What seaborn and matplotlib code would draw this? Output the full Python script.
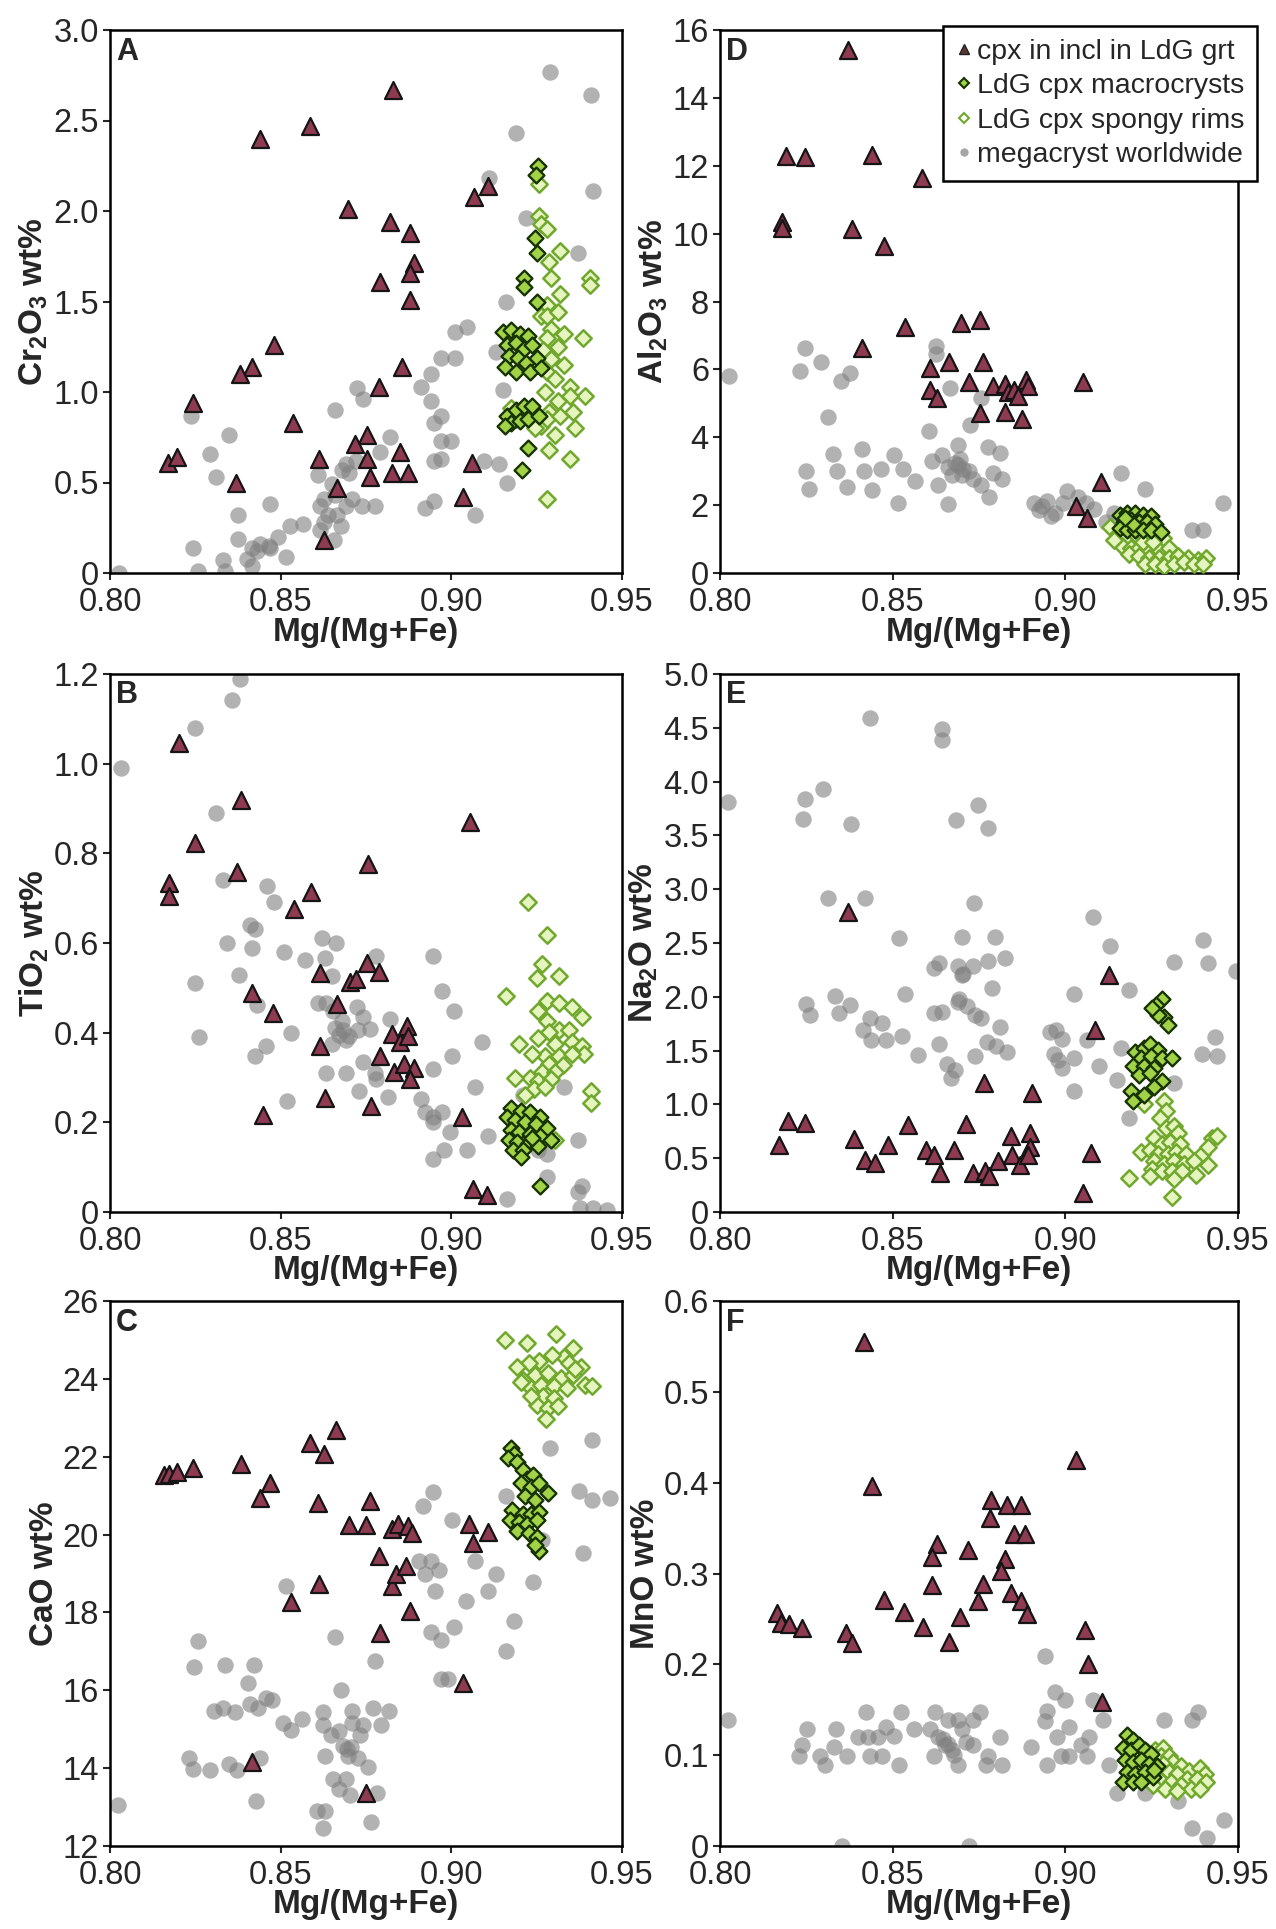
import numpy as np
import pandas as pd
import matplotlib
matplotlib.use("Agg")
import matplotlib.pyplot as plt
from matplotlib.lines import Line2D
import seaborn as sns

# ---------------- DATA (x = Mg/(Mg+Fe), y = oxide wt%) ----------------
# Panel A: Cr2O3
a_incl = [(0.844,2.40),(0.8586,2.47),(0.883,2.67),(0.8698,2.01),(0.882,1.94),(0.888,1.88),(0.889,1.71),
          (0.888,1.66),(0.888,1.51),(0.879,1.61),(0.9065,2.08),(0.9108,2.14),(0.848,1.26),(0.8415,1.14),
          (0.838,1.10),(0.8244,0.94),(0.817,0.61),(0.8197,0.64),(0.8368,0.50),(0.8537,0.83),(0.8855,1.14),
          (0.8787,1.03),(0.8754,0.76),(0.8719,0.71),(0.8754,0.63),(0.8762,0.53),(0.8612,0.63),(0.8664,0.47),
          (0.8627,0.18),(0.885,0.67),(0.8827,0.55),(0.8873,0.55),(0.906,0.61),(0.9034,0.42)]
a_macro = [(0.9254,2.25),(0.9247,2.20),(0.9244,1.85),(0.925,1.77),(0.9213,1.63),(0.9213,1.58),(0.925,1.50),
           (0.9151,1.33),(0.9175,1.34),(0.920,1.32),(0.9225,1.31),(0.9163,1.26),(0.9188,1.27),(0.9213,1.24),
           (0.9237,1.26),(0.9169,1.20),(0.9194,1.19),(0.9218,1.16),(0.925,1.19),(0.9157,1.14),(0.9188,1.11),
           (0.9231,1.11),(0.9262,1.13),(0.9163,0.87),(0.9188,0.90),(0.9213,0.92),(0.9237,0.92),(0.9175,0.83),
           (0.920,0.84),(0.9225,0.85),(0.9157,0.81),(0.9256,0.87),(0.9225,0.69),(0.9207,0.57)]
a_sponge = [(0.9256,2.15),(0.9256,1.97),(0.9262,1.93),(0.928,1.90),(0.9287,1.72),(0.9318,1.78),(0.9293,1.63),
            (0.9405,1.63),(0.9405,1.59),(0.9318,1.54),(0.928,1.48),(0.9262,1.42),(0.928,1.42),(0.9312,1.44),
            (0.9293,1.35),(0.933,1.32),(0.928,1.30),(0.9385,1.30),(0.9312,1.25),(0.9268,1.23),(0.9293,1.18),
            (0.933,1.15),(0.928,1.11),(0.9305,1.07),(0.9274,1.00),(0.9348,1.03),(0.9392,0.98),(0.9348,0.98),
            (0.9312,0.95),(0.9287,0.89),(0.9262,0.81),(0.928,0.85),(0.9318,0.87),(0.9355,0.89),(0.9361,0.80),
            (0.9244,0.80),(0.9188,0.85),(0.9175,0.91),(0.9305,0.76),(0.9287,0.68),(0.9348,0.63),(0.928,0.41)]
a_mega = [(0.929,2.77),(0.941,2.64),(0.919,2.43),(0.9415,2.11),(0.911,2.18),(0.937,1.77),(0.922,1.96),
          (0.916,1.50),(0.9046,1.36),(0.901,1.33),(0.897,1.19),(0.901,1.19),(0.913,1.22),(0.894,1.10),
          (0.891,1.03),(0.915,1.01),(0.894,0.95),(0.897,0.87),(0.895,0.83),(0.897,0.73),(0.900,0.73),
          (0.895,0.62),(0.897,0.63),(0.9095,0.62),(0.914,0.60),(0.9163,0.50),(0.907,0.32),(0.8923,0.36),
          (0.895,0.40),(0.882,0.75),(0.879,0.67),(0.8725,1.02),(0.874,0.96),(0.866,0.90),(0.8627,0.41),
          (0.861,0.54),(0.865,0.49),(0.869,0.60),(0.870,0.55),(0.871,0.41),(0.8738,0.37),(0.8775,0.37),
          (0.8615,0.37),(0.864,0.32),(0.8664,0.32),(0.869,0.37),(0.8627,0.28),(0.8676,0.26),(0.8615,0.24),
          (0.8565,0.27),(0.8528,0.26),(0.8491,0.20),(0.8466,0.15),(0.844,0.16),(0.8417,0.14),(0.840,0.08),
          (0.843,0.12),(0.847,0.14),(0.8516,0.09),(0.8417,0.04),(0.8337,0.01),(0.833,0.07),(0.8257,0.01),
          (0.8244,0.14),(0.8374,0.19),(0.8374,0.32),(0.847,0.38),(0.835,0.76),(0.8294,0.66),(0.831,0.53),
          (0.8238,0.87),(0.8025,0.0),(0.8657,0.18),(0.868,0.57),(0.872,0.62),(0.866,0.43)]

# Panel B: TiO2
b_incl = [(0.8201,1.047),(0.8385,0.919),(0.8248,0.823),(0.8174,0.733),(0.8174,0.705),(0.8373,0.759),
          (0.8589,0.714),(0.8539,0.675),(0.8755,0.777),(0.9056,0.871),(0.8417,0.489),(0.8479,0.444),
          (0.8447,0.216),(0.8616,0.533),(0.8665,0.463),(0.8754,0.556),(0.8788,0.536),(0.8702,0.514),
          (0.872,0.52),(0.8616,0.37),(0.8792,0.348),(0.8825,0.396),(0.8849,0.379),(0.8871,0.414),
          (0.8873,0.392),(0.8831,0.312),(0.886,0.331),(0.8892,0.322),(0.888,0.296),(0.8629,0.254),
          (0.8766,0.237),(0.9031,0.213),(0.9064,0.051),(0.9105,0.039)]
b_macro = [(0.9174,0.231),(0.9205,0.226),(0.923,0.222),(0.926,0.213),(0.9162,0.213),(0.9187,0.205),
           (0.9217,0.200),(0.9248,0.196),(0.9279,0.187),(0.9174,0.183),(0.9199,0.178),(0.923,0.174),
           (0.926,0.170),(0.9168,0.161),(0.9193,0.157),(0.9224,0.152),(0.9254,0.148),(0.918,0.139),
           (0.9211,0.139),(0.9205,0.122),(0.9236,0.165),(0.9291,0.161),(0.926,0.058)]
b_sponge = [(0.9224,0.692),(0.9281,0.617),(0.9267,0.553),(0.9252,0.523),(0.9316,0.527),(0.916,0.481),
            (0.9279,0.470),(0.9254,0.448),(0.9316,0.466),(0.9353,0.457),(0.9383,0.435),(0.9279,0.427),
            (0.9316,0.405),(0.9346,0.405),(0.9285,0.401),(0.9254,0.387),(0.9199,0.374),(0.9304,0.374),
            (0.9353,0.379),(0.9383,0.370),(0.9389,0.353),(0.9273,0.348),(0.9316,0.348),(0.9353,0.353),
            (0.9285,0.331),(0.9328,0.327),(0.9267,0.313),(0.9304,0.313),(0.923,0.300),(0.9187,0.300),
            (0.9254,0.292),(0.9291,0.296),(0.9242,0.274),(0.9273,0.279),(0.9217,0.261),(0.9408,0.270),
            (0.9408,0.244),(0.9304,0.161),(0.9236,0.353)]
b_mega = [(0.8033,0.991),(0.8248,1.080),(0.8356,1.141),(0.838,1.189),(0.8312,0.890),(0.8331,0.740),
          (0.8459,0.727),(0.848,0.692),(0.841,0.640),(0.8426,0.631),(0.8344,0.601),(0.8416,0.588),
          (0.8511,0.579),(0.857,0.562),(0.8377,0.529),(0.825,0.510),(0.826,0.390),(0.8432,0.462),
          (0.8457,0.370),(0.8426,0.348),(0.853,0.399),(0.852,0.248),(0.8622,0.611),(0.8662,0.599),
          (0.8629,0.566),(0.865,0.527),(0.861,0.466),(0.8634,0.466),(0.8653,0.448),(0.868,0.427),
          (0.8724,0.457),(0.874,0.435),(0.8684,0.405),(0.870,0.392),(0.8727,0.405),(0.8763,0.409),
          (0.869,0.383),(0.865,0.374),(0.8634,0.309),(0.869,0.309),(0.874,0.335),(0.8776,0.309),
          (0.878,0.296),(0.873,0.270),(0.8813,0.257),(0.8819,0.431),(0.878,0.570),(0.8947,0.570),
          (0.8972,0.492),(0.9009,0.448),(0.9003,0.348),(0.8947,0.318),(0.891,0.253),(0.8922,0.222),
          (0.8947,0.213),(0.8972,0.222),(0.8947,0.200),(0.8997,0.178),(0.8978,0.139),(0.8947,0.118),
          (0.9046,0.139),(0.907,0.279),(0.9089,0.379),(0.9107,0.170),(0.9162,0.030),(0.9187,0.170),
          (0.928,0.130),(0.928,0.078),(0.933,0.279),(0.937,0.161),(0.9384,0.057),(0.937,0.044),
          (0.9377,0.009),(0.9414,0.009),(0.9457,0.004),(0.9211,0.261),(0.9254,0.139),(0.867,0.395),
          (0.866,0.41)]

# Panel C: CaO
c_incl = [(0.8159,21.54),(0.8173,21.56),(0.8195,21.62),(0.8242,21.70),(0.8385,21.80),(0.844,20.93),
          (0.847,21.33),(0.8586,22.34),(0.8627,22.07),(0.8663,22.69),(0.8608,20.80),(0.8611,18.72),
          (0.8531,18.27),(0.8699,20.24),(0.8751,20.24),(0.8761,20.85),(0.8788,19.44),(0.8825,20.14),
          (0.8843,20.26),(0.8873,20.21),(0.8886,20.05),(0.8825,18.67),(0.8837,18.99),(0.8868,19.20),
          (0.888,18.03),(0.879,17.48),(0.9051,20.28),(0.9063,19.79),(0.9106,20.07),(0.9033,16.18),
          (0.8415,14.16),(0.8751,13.36)]
c_macro = [(0.9175,22.23),(0.9185,22.07),(0.9167,21.96),(0.9191,21.86),(0.921,21.65),(0.9222,21.43),
           (0.924,21.54),(0.9204,21.33),(0.9234,21.22),(0.9258,21.33),(0.9283,21.06),(0.9216,21.00),
           (0.9246,20.90),(0.9179,20.64),(0.921,20.53),(0.9234,20.53),(0.9258,20.58),(0.9173,20.37),
           (0.9197,20.32),(0.9222,20.26),(0.9252,20.37),(0.9191,20.10),(0.9228,20.05),(0.9252,19.94),
           (0.9258,19.57),(0.9246,19.73)]
c_sponge = [(0.9158,24.99),(0.9222,24.92),(0.9307,25.15),(0.9356,24.78),(0.933,24.57),(0.9295,24.62),
            (0.9258,24.46),(0.9228,24.41),(0.9191,24.30),(0.9344,24.41),(0.9381,24.30),(0.921,23.98),
            (0.9246,24.09),(0.9283,24.14),(0.932,24.03),(0.9356,24.09),(0.9393,23.85),(0.9411,23.82),
            (0.9234,23.77),(0.9264,23.85),(0.9301,23.82),(0.9338,23.77),(0.9204,23.93),(0.927,23.56),
            (0.9301,23.50),(0.9252,23.34),(0.9283,23.24),(0.9313,23.29),(0.9276,22.97),(0.9234,23.56),
            (0.9362,24.25)]
c_mega = [(0.8022,13.06),(0.8257,17.27),(0.8247,16.60),(0.8336,16.65),(0.8421,16.65),(0.8403,16.20),
          (0.8305,15.48),(0.833,15.54),(0.8366,15.43),(0.8409,15.64),(0.8434,15.54),(0.8458,15.80),
          (0.8476,15.75),(0.8507,15.17),(0.8531,14.98),(0.8562,15.27),(0.8232,14.27),(0.8244,13.97),
          (0.8293,13.95),(0.8348,14.10),(0.8372,13.95),(0.844,14.27),(0.8428,13.15),(0.8516,18.67),
          (0.866,17.37),(0.8678,16.01),(0.8776,16.76),(0.877,15.54),(0.8818,15.48),(0.8794,15.11),
          (0.8623,15.43),(0.8623,15.11),(0.8647,14.85),(0.8672,14.95),(0.8709,15.48),(0.8709,15.17),
          (0.8733,14.85),(0.874,15.11),(0.8684,14.58),(0.8696,14.32),(0.8727,14.27),(0.8629,14.32),
          (0.8757,14.02),(0.8654,13.73),(0.869,13.73),(0.8672,13.47),(0.8702,13.31),(0.8782,13.36),
          (0.8605,12.89),(0.863,12.89),(0.8623,12.45),(0.8764,12.62),(0.8916,20.74),(0.8947,21.09),
          (0.9002,20.37),(0.8904,19.31),(0.8941,19.31),(0.8922,18.99),(0.8965,19.10),(0.8953,18.56),
          (0.9069,19.33),(0.913,18.99),(0.9106,18.56),(0.9044,18.30),(0.8941,17.50),(0.8971,17.29),
          (0.9008,17.63),(0.8989,16.28),(0.897,16.28),(0.9185,17.77),(0.9161,17.00),(0.924,18.78),
          (0.929,22.23),(0.9411,22.44),(0.9374,21.11),(0.9411,20.90),(0.9466,20.95),(0.9387,19.52),
          (0.9161,21.00),(0.9266,19.85),(0.8706,14.55),(0.8693,14.48)]

# Panel D: Al2O3
d_incl = [(0.8371,15.42),(0.8192,12.29),(0.8247,12.25),(0.8441,12.33),(0.8586,11.63),(0.8179,10.35),
          (0.8179,10.17),(0.8382,10.14),(0.8476,9.63),(0.8535,7.26),(0.8411,6.62),(0.8697,7.38),
          (0.8753,7.46),(0.8609,6.04),(0.8663,6.21),(0.8761,6.21),(0.8609,5.40),(0.8629,5.16),
          (0.8722,5.63),(0.8753,4.70),(0.879,5.51),(0.8824,5.57),(0.8835,5.34),(0.8852,5.40),
          (0.8886,5.69),(0.8891,5.51),(0.8824,4.75),(0.8874,4.54),(0.8863,5.22),(0.905,5.63),
          (0.9104,2.68),(0.903,1.98),(0.9063,1.63)]
d_macro = [(0.9157,1.72),(0.918,1.78),(0.9202,1.78),(0.9225,1.72),(0.9248,1.67),(0.9169,1.49),
           (0.9191,1.55),(0.9214,1.49),(0.9236,1.49),(0.9259,1.43),(0.9157,1.32),(0.918,1.26),
           (0.9202,1.26),(0.9225,1.26),(0.9248,1.26),(0.9276,1.20),(0.9197,1.43),(0.9174,1.61)]
d_sponge = [(0.9129,1.37),(0.9152,1.14),(0.9174,1.03),(0.9202,1.14),(0.923,1.08),(0.9259,1.08),
            (0.9282,1.03),(0.9163,0.79),(0.9191,0.73),(0.9214,0.73),(0.9242,0.68),(0.927,0.68),
            (0.9299,0.73),(0.9185,0.56),(0.9214,0.50),(0.9242,0.44),(0.927,0.44),(0.9299,0.44),
            (0.9327,0.50),(0.9355,0.44),(0.9384,0.38),(0.9406,0.44),(0.923,0.27),(0.9259,0.27),
            (0.9287,0.21),(0.9316,0.27),(0.9344,0.33),(0.9372,0.27),(0.940,0.27),(0.914,0.97),
            (0.9225,0.91),(0.9253,0.91)]
d_mega = [(0.8026,5.80),(0.8247,6.62),(0.8233,5.94),(0.8292,6.21),(0.8351,5.66),(0.8377,5.90),
          (0.8312,4.61),(0.8249,3.01),(0.8258,2.48),(0.8326,3.50),(0.8339,3.01),(0.8369,2.52),
          (0.8411,3.65),(0.8416,3.01),(0.8439,2.45),(0.8467,3.06),(0.8504,3.47),(0.853,3.06),
          (0.8516,2.05),(0.8566,2.71),(0.8606,4.19),(0.8665,5.45),(0.8626,6.68),(0.8626,6.44),
          (0.8659,2.02),(0.8631,2.60),(0.8615,3.30),(0.8643,3.47),(0.866,3.12),(0.8688,3.76),
          (0.8694,3.36),(0.870,2.89),(0.8722,3.01),(0.8733,2.77),(0.8756,2.60),(0.8778,2.25),
          (0.879,2.95),(0.8812,3.53),(0.8818,2.77),(0.8776,3.71),(0.8671,2.89),(0.8688,3.18),
          (0.8725,4.35),(0.8756,5.16),(0.8908,2.07),(0.8931,1.96),(0.8948,2.13),(0.8971,1.78),
          (0.9005,2.42),(0.8993,2.07),(0.9038,2.25),(0.9061,2.07),(0.9084,1.90),(0.8959,1.67),
          (0.9117,1.49),(0.916,2.95),(0.923,2.48),(0.9457,2.07),(0.9367,1.26),(0.940,1.26),
          (0.914,1.78),(0.8705,3.05),(0.8680,3.25),(0.8925,1.85)]

# Panel E: Na2O
e_incl = [(0.8371,2.79),(0.9126,2.20),(0.9085,1.69),(0.8764,1.20),(0.8903,1.11),(0.8197,0.85),
          (0.8245,0.83),(0.8172,0.62),(0.8388,0.68),(0.8421,0.48),(0.845,0.46),(0.8486,0.62),
          (0.8544,0.81),(0.8597,0.58),(0.8621,0.53),(0.8638,0.36),(0.8677,0.58),(0.8712,0.82),
          (0.8732,0.36),(0.8768,0.38),(0.8779,0.33),(0.8806,0.47),(0.8842,0.71),(0.8846,0.53),
          (0.887,0.44),(0.8897,0.73),(0.8897,0.60),(0.8893,0.53),(0.9073,0.55),(0.905,0.18)]
e_macro = [(0.9281,1.98),(0.9262,1.92),(0.9285,1.81),(0.9267,1.83),(0.9297,1.74),(0.925,1.90),
           (0.9203,1.49),(0.9227,1.52),(0.9244,1.56),(0.9267,1.51),(0.922,1.43),(0.9249,1.45),
           (0.9279,1.43),(0.9309,1.43),(0.9197,1.36),(0.9227,1.36),(0.9256,1.34),(0.9214,1.27),
           (0.9244,1.29),(0.9279,1.22),(0.9191,1.12),(0.9227,1.09),(0.9197,1.03),(0.9256,1.16)]
e_sponge = [(0.9285,1.03),(0.9291,0.94),(0.9273,0.87),(0.9291,0.78),(0.9314,0.80),(0.9326,0.73),
            (0.9256,0.69),(0.928,0.63),(0.9303,0.65),(0.9332,0.63),(0.922,0.56),(0.9244,0.58),
            (0.9268,0.54),(0.9297,0.54),(0.932,0.56),(0.935,0.54),(0.9397,0.54),(0.9426,0.69),
            (0.9438,0.71),(0.9414,0.60),(0.9256,0.47),(0.9285,0.45),(0.9314,0.47),(0.9344,0.45),
            (0.9373,0.47),(0.9414,0.44),(0.925,0.40),(0.928,0.38),(0.9309,0.38),(0.9338,0.38),
            (0.9379,0.34),(0.9185,0.32),(0.9244,0.33),(0.9314,0.31),(0.9309,0.14),(0.9227,1.00)]
e_mega = [(0.8024,3.81),(0.8239,3.65),(0.8245,3.84),(0.8298,3.93),(0.8433,4.59),(0.838,3.61),
          (0.8642,4.49),(0.8642,4.39),(0.8682,3.64),(0.8748,3.78),(0.8776,3.57),(0.8313,2.92),
          (0.8419,2.92),(0.8736,2.87),(0.8517,2.55),(0.8701,2.56),(0.8795,2.56),(0.8621,2.27),
          (0.8633,2.31),(0.869,2.29),(0.8703,2.21),(0.8732,2.29),(0.8776,2.33),(0.8826,2.36),
          (0.8788,2.08),(0.8536,2.03),(0.8333,2.01),(0.825,1.93),(0.8262,1.83),(0.8344,1.85),
          (0.8376,1.92),(0.8433,1.80),(0.8468,1.76),(0.8415,1.69),(0.8438,1.60),(0.848,1.60),
          (0.8527,1.64),(0.8574,1.46),(0.8635,1.56),(0.8621,1.85),(0.8644,1.86),(0.8691,1.98),
          (0.8715,1.91),(0.8738,1.83),(0.8756,1.80),(0.8738,1.45),(0.8774,1.58),(0.880,1.54),
          (0.883,1.49),(0.8811,1.72),(0.8656,1.38),(0.868,1.32),(0.867,1.25),(0.8956,1.67),
          (0.8973,1.69),(0.8991,1.61),(0.8967,1.47),(0.898,1.41),(0.8991,1.34),(0.9026,1.43),
          (0.9062,1.60),(0.9097,1.36),(0.9026,1.12),(0.9026,2.03),(0.9079,2.74),(0.9129,2.47),
          (0.9185,2.06),(0.9162,1.52),(0.915,1.23),(0.9185,0.87),(0.9314,2.32),(0.9399,2.53),
          (0.9414,2.31),(0.9493,2.24),(0.9432,1.63),(0.9397,1.47),(0.9438,1.45),(0.9314,1.20),
          (0.8700,2.20),(0.8690,1.95)]

# Panel F: MnO
f_incl = [(0.8416,0.555),(0.8441,0.396),(0.9031,0.425),(0.8786,0.381),(0.8783,0.361),(0.8832,0.375),
          (0.8873,0.375),(0.8852,0.343),(0.8884,0.343),(0.8627,0.332),(0.8614,0.318),(0.8717,0.326),
          (0.8826,0.316),(0.8815,0.303),(0.8614,0.287),(0.8763,0.288),(0.8748,0.270),(0.8475,0.271),
          (0.8533,0.258),(0.8844,0.278),(0.8873,0.270),(0.8888,0.255),(0.8694,0.252),(0.8588,0.241),
          (0.8165,0.256),(0.8177,0.245),(0.8199,0.244),(0.8237,0.240),(0.8364,0.234),(0.8383,0.224),
          (0.8663,0.225),(0.9057,0.238),(0.9066,0.200),(0.9105,0.158)]
f_macro = [(0.9178,0.122),(0.9195,0.117),(0.9167,0.108),(0.919,0.106),(0.9213,0.111),(0.923,0.106),
           (0.9247,0.101),(0.9172,0.095),(0.9195,0.092),(0.9218,0.095),(0.9241,0.090),(0.9264,0.088),
           (0.9178,0.081),(0.9201,0.079),(0.923,0.081),(0.9253,0.076),(0.9167,0.070),(0.9195,0.070),
           (0.9218,0.070),(0.9258,0.084)]
f_sponge = [(0.9213,0.099),(0.9236,0.104),(0.9259,0.106),(0.9282,0.108),(0.9276,0.099),(0.9299,0.099),
            (0.9311,0.092),(0.9282,0.090),(0.9334,0.088),(0.9357,0.083),(0.9391,0.086),(0.9403,0.079),
            (0.927,0.081),(0.9299,0.081),(0.9322,0.079),(0.9351,0.074),(0.938,0.074),(0.9408,0.070),
            (0.9241,0.076),(0.9276,0.072),(0.9305,0.070),(0.9334,0.067),(0.9363,0.063),(0.9391,0.063),
            (0.9224,0.086),(0.9253,0.067),(0.9288,0.063),(0.9322,0.061)]
f_mega = [(0.8024,0.139),(0.8251,0.129),(0.8237,0.111),(0.823,0.099),(0.8291,0.099),(0.8305,0.089),
          (0.8329,0.109),(0.8337,0.129),(0.8368,0.099),(0.8424,0.148),(0.8401,0.120),(0.843,0.120),
          (0.8433,0.099),(0.847,0.099),(0.8458,0.120),(0.8481,0.131),(0.8518,0.089),(0.8525,0.148),
          (0.8504,0.121),(0.8562,0.129),(0.8608,0.129),(0.8622,0.148),(0.8631,0.120),(0.8652,0.111),
          (0.8619,0.099),(0.866,0.139),(0.8688,0.139),(0.870,0.129),(0.8711,0.115),(0.8679,0.100),
          (0.8689,0.089),(0.8734,0.139),(0.8752,0.148),(0.8732,0.111),(0.8775,0.099),(0.8769,0.089),
          (0.881,0.120),(0.8817,0.089),(0.8902,0.109),(0.8942,0.138),(0.8947,0.089),(0.8942,0.209),
          (0.8971,0.170),(0.8999,0.161),(0.8947,0.149),(0.9011,0.131),(0.8976,0.120),(0.8988,0.099),
          (0.9011,0.099),(0.9045,0.111),(0.9068,0.120),(0.9062,0.099),(0.908,0.161),(0.9108,0.139),
          (0.9126,0.089),(0.9149,0.058),(0.9287,0.139),(0.9327,0.049),(0.9385,0.148),(0.9367,0.139),
          (0.9367,0.020),(0.941,0.009),(0.946,0.029),(0.8352,0.0),(0.872,0.0),(0.923,0.058),
          (0.8660,0.112),(0.8672,0.106),(0.8645,0.118)]

x_ticks = [0.80, 0.85, 0.90, 0.95]
x_ticklabels = ["0.80", "0.85", "0.90", "0.95"]
panels = [
    # letter, ylabel, yticks, yticklabels, series
    ("A", r"Cr$_2$O$_3$ wt%", [0, 0.5, 1.0, 1.5, 2.0, 2.5, 3.0],
     ["0", "0.5", "1.0", "1.5", "2.0", "2.5", "3.0"], a_incl, a_macro, a_sponge, a_mega),
    ("D", r"Al$_2$O$_3$ wt%", [0, 2, 4, 6, 8, 10, 12, 14, 16],
     ["0", "2", "4", "6", "8", "10", "12", "14", "16"], d_incl, d_macro, d_sponge, d_mega),
    ("B", r"TiO$_2$ wt%", [0, 0.2, 0.4, 0.6, 0.8, 1.0, 1.2],
     ["0", "0.2", "0.4", "0.6", "0.8", "1.0", "1.2"], b_incl, b_macro, b_sponge, b_mega),
    ("E", r"Na$_2$O wt%", [0, 0.5, 1.0, 1.5, 2.0, 2.5, 3.0, 3.5, 4.0, 4.5, 5.0],
     ["0", "0.5", "1.0", "1.5", "2.0", "2.5", "3.0", "3.5", "4.0", "4.5", "5.0"], e_incl, e_macro, e_sponge, e_mega),
    ("C", "CaO wt%", [12, 14, 16, 18, 20, 22, 24, 26],
     ["12", "14", "16", "18", "20", "22", "24", "26"], c_incl, c_macro, c_sponge, c_mega),
    ("F", "MnO wt%", [0, 0.1, 0.2, 0.3, 0.4, 0.5, 0.6],
     ["0", "0.1", "0.2", "0.3", "0.4", "0.5", "0.6"], f_incl, f_macro, f_sponge, f_mega),
]
legend_labels = ["cpx in incl in LdG grt", "LdG cpx macrocrysts", "LdG cpx spongy rims", "megacryst worldwide"]

# ---------------- STYLE ----------------
sns.set_style("white")
plt.rcParams["font.family"] = ["Liberation Sans", "DejaVu Sans"]
plt.rcParams["mathtext.fontset"] = "custom"
plt.rcParams["mathtext.rm"] = "Liberation Sans:bold"
plt.rcParams["mathtext.it"] = "Liberation Sans:bold"
plt.rcParams["mathtext.bf"] = "Liberation Sans:bold"
plt.rcParams["mathtext.default"] = "rm"

TRI_FACE, TRI_EDGE = "#8e3b52", "#151515"
MAC_FACE, MAC_EDGE = "#a2d246", "#173300"
SPO_FACE, SPO_EDGE = "#e6f4bf", "#6fa82c"
MEGA = "#808080"

W, H = 1276, 1929
fig = plt.figure(figsize=(W / 100, H / 100), dpi=100)

cols = [(110, 512), (720, 518)]
rows = [(30, 573), (674, 1212), (1301, 1846)]

for i, (letter, ylab, yt, ytl, incl, macro, sponge, mega) in enumerate(panels):
    r, c = divmod(i, 2)
    x0, w = cols[c]
    top, bot = rows[r]
    ax = fig.add_axes([x0 / W, 1 - bot / H, w / W, (bot - top) / H])
    ax.set_facecolor("white")

    dm = pd.DataFrame(mega, columns=["x", "y"])
    di = pd.DataFrame(incl, columns=["x", "y"])
    ds = pd.DataFrame(sponge, columns=["x", "y"])
    dc = pd.DataFrame(macro, columns=["x", "y"])

    sns.scatterplot(data=dm, x="x", y="y", ax=ax, marker="o", s=140, color=MEGA,
                    alpha=0.6, linewidth=0, legend=False, zorder=2)
    sns.scatterplot(data=di, x="x", y="y", ax=ax, marker="^", s=150, color=TRI_FACE,
                    edgecolor=TRI_EDGE, linewidth=1.6, legend=False, zorder=3)
    sns.scatterplot(data=ds, x="x", y="y", ax=ax, marker="D", s=70, color=SPO_FACE,
                    edgecolor=SPO_EDGE, linewidth=1.8, legend=False, zorder=4)
    sns.scatterplot(data=dc, x="x", y="y", ax=ax, marker="D", s=65, color=MAC_FACE,
                    edgecolor=MAC_EDGE, linewidth=1.7, legend=False, zorder=5)

    ax.set_xlim(0.80, 0.95)
    ax.set_ylim(yt[0], yt[-1])
    ax.set_xticks(x_ticks)
    ax.set_xticklabels(x_ticklabels)
    ax.set_yticks(yt)
    ax.set_yticklabels(ytl)
    ax.tick_params(axis="both", which="major", direction="out", length=5, width=1.5,
                  labelsize=23.5, pad=3, bottom=True, left=True, top=False, right=False)
    ax.tick_params(axis="x", pad=5)
    for sp in ax.spines.values():
        sp.set_visible(True)
        sp.set_color("black")
        sp.set_linewidth(1.8)
    ax.set_xlabel("Mg/(Mg+Fe)", fontsize=24, fontweight="bold", labelpad=-1)
    ax.set_ylabel(ylab, fontsize=24, fontweight="bold", labelpad=2)
    ax.text(0.012, 0.988, letter, transform=ax.transAxes, ha="left", va="top",
            fontsize=22, fontweight="bold")

handles = [
    Line2D([], [], linestyle="none", marker="^", markersize=7, markerfacecolor="#5a3a30",
           markeredgecolor="#222222", markeredgewidth=1),
    Line2D([], [], linestyle="none", marker="D", markersize=5, markerfacecolor=MAC_FACE,
           markeredgecolor=MAC_EDGE, markeredgewidth=1.5),
    Line2D([], [], linestyle="none", marker="D", markersize=5, markerfacecolor="white",
           markeredgecolor=SPO_EDGE, markeredgewidth=1.5),
    Line2D([], [], linestyle="none", marker="o", markersize=6, markerfacecolor=MEGA,
           markeredgecolor="none", alpha=0.7),
]
leg = fig.legend(handles, legend_labels, loc="upper left", bbox_to_anchor=(943 / W, 1 - 26 / H),
                 fontsize=20.5, frameon=True, fancybox=False, framealpha=1, edgecolor="black",
                 handlelength=0.6, handletextpad=0.15, borderpad=0.45, labelspacing=0.3,
                 borderaxespad=0)
leg.get_frame().set_linewidth(1.8)
leg.set_zorder(10)

fig.savefig("out.png", dpi=100, facecolor="white")
